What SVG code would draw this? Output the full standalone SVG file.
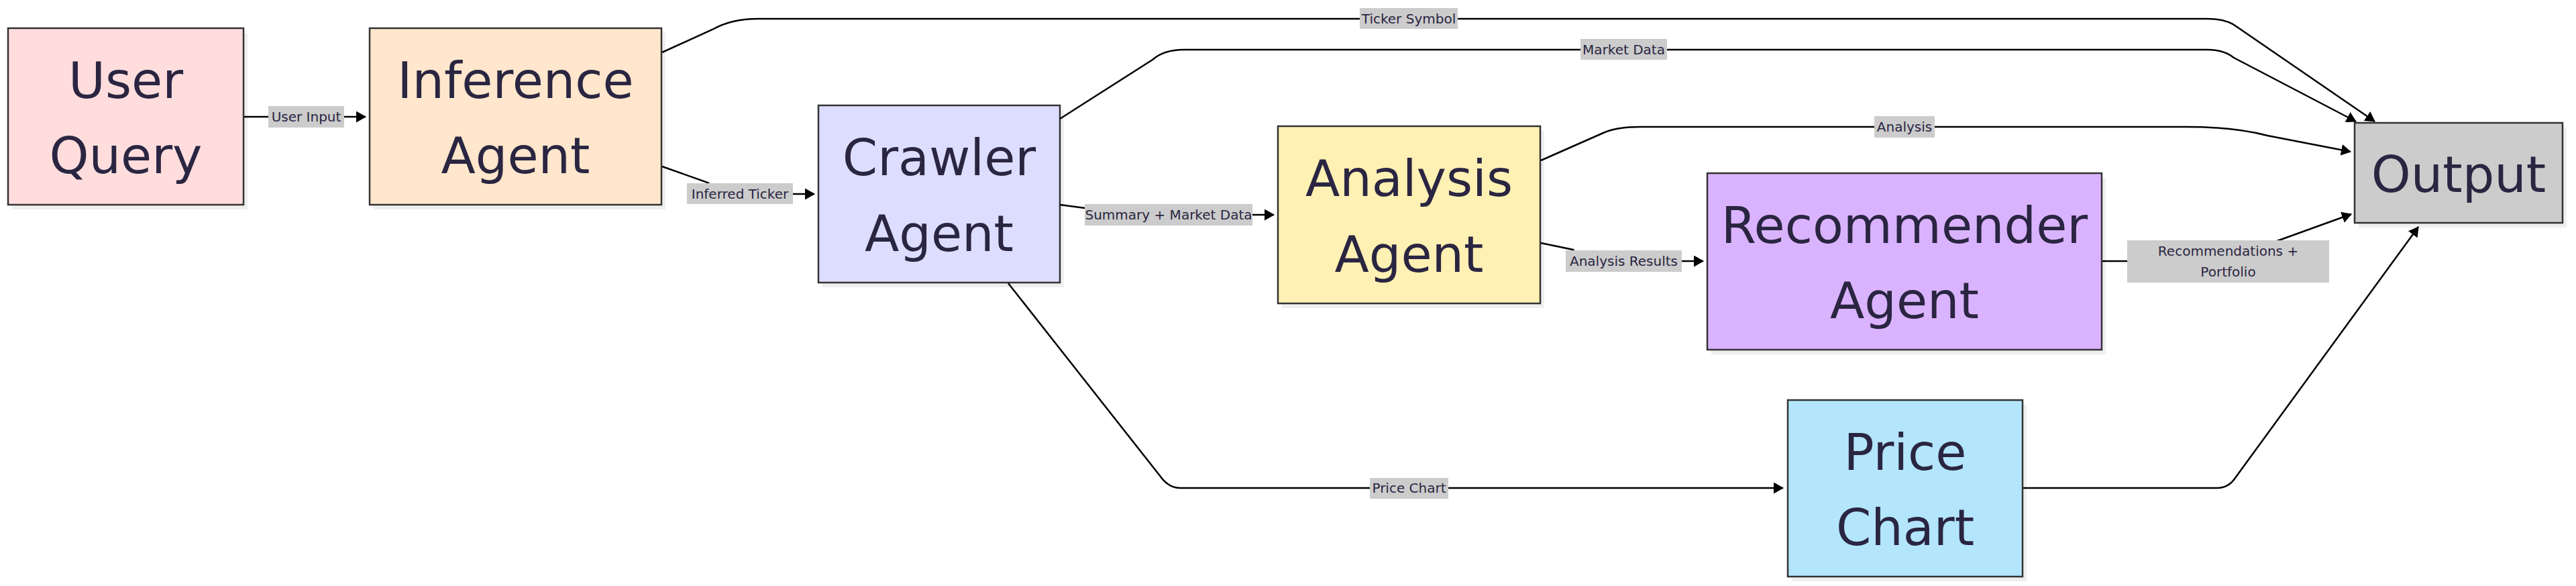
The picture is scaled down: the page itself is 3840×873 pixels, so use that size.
<svg xmlns="http://www.w3.org/2000/svg" width="3840" height="873" viewBox="0 0 3840 873">
<style>
.node rect.box{stroke:#333;stroke-width:2.5}
.node rect.sh{fill:#efefef}
.node text{font-family:"DejaVu Sans",sans-serif;font-size:75px;fill:#2a2541;text-anchor:middle}
.edges path{fill:none;stroke:#000;stroke-width:2.5}
.lbl rect{fill:#cccccc}
.lbl text{font-family:"DejaVu Sans",sans-serif;font-size:20px;fill:#2a2541;text-anchor:middle}
</style>
<defs>
<marker id="ah" markerUnits="userSpaceOnUse" viewBox="0 0 15 17" markerWidth="15" markerHeight="17" refX="14" refY="8.5" orient="auto">
<path d="M0,0 L15,8.5 L0,17 z" fill="#000"/>
</marker>
</defs>
<rect width="3840" height="873" fill="#fff"/>

<g id="user-query" class="node">
<rect class="sh" x="18" y="49" width="351" height="263"/>
<rect class="box" x="12" y="42" width="351" height="263" fill="#ffdddd"/>
<text x="187.5" y="145.5">User</text><text x="187.5" y="258">Query</text>
</g>
<g id="inference-agent" class="node">
<rect class="sh" x="557" y="49" width="435" height="263"/>
<rect class="box" x="551" y="42" width="435" height="263" fill="#ffe6cc"/>
<text x="768.5" y="145.5">Inference</text><text x="768.5" y="258">Agent</text>
</g>
<g id="crawler-agent" class="node">
<rect class="sh" x="1226" y="164" width="360" height="264"/>
<rect class="box" x="1220" y="157" width="360" height="264" fill="#ddddff"/>
<text x="1400" y="261">Crawler</text><text x="1400" y="373.5">Agent</text>
</g>
<g id="analysis-agent" class="node">
<rect class="sh" x="1911" y="195" width="391" height="264"/>
<rect class="box" x="1905" y="188" width="391" height="264" fill="#fff0b3"/>
<text x="2100.5" y="292">Analysis</text><text x="2100.5" y="404.5">Agent</text>
</g>
<g id="recommender-agent" class="node">
<rect class="sh" x="2551" y="265" width="588" height="263"/>
<rect class="box" x="2545" y="258" width="588" height="263" fill="#dab3ff"/>
<text x="2839" y="361.5">Recommender</text><text x="2839" y="474">Agent</text>
</g>
<g id="price-chart" class="node">
<rect class="sh" x="2671" y="603" width="350" height="263"/>
<rect class="box" x="2665" y="596" width="350" height="263" fill="#b3e5fc"/>
<text x="2840" y="699.5">Price</text><text x="2840" y="812">Chart</text>
</g>
<g id="output" class="node">
<rect class="sh" x="3516" y="190" width="310" height="149"/>
<rect class="box" x="3510" y="183" width="310" height="149" fill="#cccccc"/>
<text x="3665" y="285.5">Output</text>
</g>

<g id="edges" class="edges">
<path d="M364,174 L545,174" marker-end="url(#ah)"/>
<path d="M987,248 L1055,272 Q1075,289 1100,289 L1214,289" marker-end="url(#ah)"/>
<path d="M987,78 L1062,44 Q1090,28 1130,28 L3290,28 Q3320,28 3336,41 L3540,181" marker-end="url(#ah)"/>
<path d="M1580,177 L1718,89 Q1735,74 1765,74 L3290,74 Q3315,74 3330,86 L3512,181" marker-end="url(#ah)"/>
<path d="M1580,305 L1625,311 Q1640,320 1660,320 L1899,320" marker-end="url(#ah)"/>
<path d="M2297,239 L2390,198 Q2410,189 2445,189 L3260,189 Q3330,189 3380,202 L3504,226" marker-end="url(#ah)"/>
<path d="M2297,362 L2345,372 Q2360,389 2380,389 L2539,389" marker-end="url(#ah)"/>
<path d="M3134,389 L3300,389 Q3312,389 3325,384 L3505,319" marker-end="url(#ah)"/>
<path d="M1503,422 L1730,710 Q1742,727 1760,727 L2658,727" marker-end="url(#ah)"/>
<path d="M3016,727 L3305,727 Q3322,727 3332,712 L3605,338" marker-end="url(#ah)"/>
</g>

<g id="edge-labels">
<g class="lbl"><rect x="400" y="158" width="113" height="32"/><text x="456.5" y="181">User Input</text></g>
<g class="lbl"><rect x="1024" y="273" width="158" height="31"/><text x="1103" y="295.5">Inferred Ticker</text></g>
<g class="lbl"><rect x="2027" y="12" width="146" height="31"/><text x="2100" y="35">Ticker Symbol</text></g>
<g class="lbl"><rect x="2356" y="58" width="129" height="31"/><text x="2420.5" y="81">Market Data</text></g>
<g class="lbl"><rect x="1617" y="304" width="250" height="32"/><text x="1742" y="327">Summary + Market Data</text></g>
<g class="lbl"><rect x="2794" y="173" width="90" height="32"/><text x="2839" y="196">Analysis</text></g>
<g class="lbl"><rect x="2334" y="373" width="173" height="32"/><text x="2420.5" y="396">Analysis Results</text></g>
<g class="lbl"><rect x="3171" y="358" width="301" height="63"/><text x="3321.5" y="381">Recommendations +</text><text x="3321.5" y="412">Portfolio</text></g>
<g class="lbl"><rect x="2042" y="712" width="117" height="31"/><text x="2100.5" y="734">Price Chart</text></g>
</g>
</svg>
